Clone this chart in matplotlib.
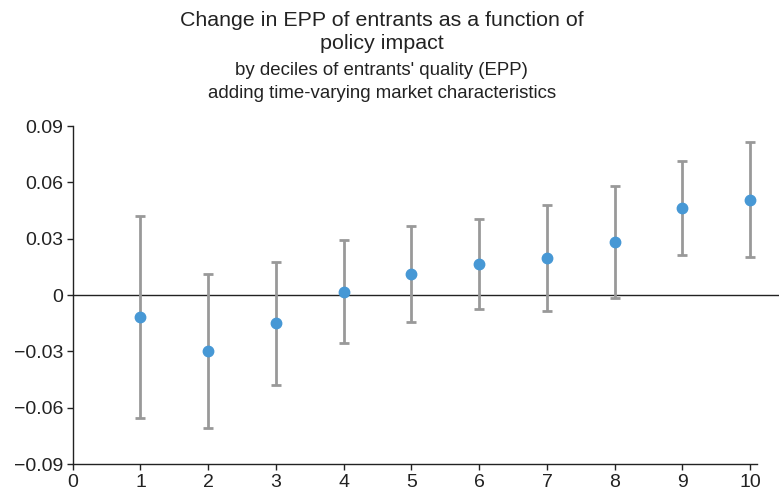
import matplotlib
matplotlib.use("Agg")
import matplotlib.pyplot as plt
import numpy as np

plt.rcParams['font.family'] = ['Liberation Sans', 'DejaVu Sans']

# deciles of entrants' quality
deciles = [1, 2, 3, 4, 5, 6, 7, 8, 9, 10]
estimate = [-0.0115, -0.0298, -0.0151, 0.0016, 0.0112, 0.0165, 0.0197, 0.0282, 0.0463, 0.0508]
ci_upper = [0.0419, 0.0110, 0.0174, 0.0291, 0.0366, 0.0406, 0.0478, 0.0580, 0.0712, 0.0815]
ci_lower = [-0.0653, -0.0708, -0.0481, -0.0257, -0.0142, -0.0076, -0.0083, -0.0016, 0.0215, 0.0201]

yticks = [-0.09, -0.06, -0.03, 0, 0.03, 0.06, 0.09]
ytick_labels = ['\u22120.09', '\u22120.06', '\u22120.03', '0', '0.03', '0.06', '0.09']
xticks = [0, 1, 2, 3, 4, 5, 6, 7, 8, 9, 10]

fig = plt.figure(figsize=(7.79, 4.93), dpi=100)
ax = fig.add_axes([0.0933, 0.0588, 0.8785, 0.6856])

est = np.array(estimate)
yerr = [est - np.array(ci_lower), np.array(ci_upper) - est]

# zero line runs a bit past the axes on the right
ax.plot([0, 1.032], [0.5, 0.5], transform=ax.transAxes, color='#222222',
        lw=1.0, clip_on=False, zorder=1)

ax.errorbar(deciles, estimate, yerr=yerr, fmt='none', ecolor='#999999',
            elinewidth=2.0, capsize=3.5, capthick=2.0, zorder=2)
ax.plot(deciles, estimate, 'o', color='#4798d5', markersize=7.5, zorder=3)

ax.set_xlim(0, 10.1)
ax.set_ylim(-0.09, 0.09)
ax.set_xticks(xticks)
ax.set_yticks(yticks)
ax.set_yticklabels(ytick_labels)
ax.tick_params(labelsize=14, length=4, width=1, color='#222222',
               labelcolor='#222222', pad=3)

for side in ['top', 'right']:
    ax.spines[side].set_visible(False)
for side in ['left', 'bottom']:
    ax.spines[side].set_color('#222222')
    ax.spines[side].set_linewidth(1.0)

fig.text(0.49, 0.959, 'Change in EPP of entrants as a function of', ha='center',
         va='center', fontsize=15.4, color='#222222')
fig.text(0.49, 0.911, 'policy impact', ha='center', va='center',
         fontsize=15.4, color='#222222')
fig.text(0.49, 0.858, "by deciles of entrants' quality (EPP)", ha='center',
         va='center', fontsize=13.4, color='#222222')
fig.text(0.49, 0.811, 'adding time-varying market characteristics', ha='center',
         va='center', fontsize=13.4, color='#222222')

fig.savefig('out.png', dpi=100)
